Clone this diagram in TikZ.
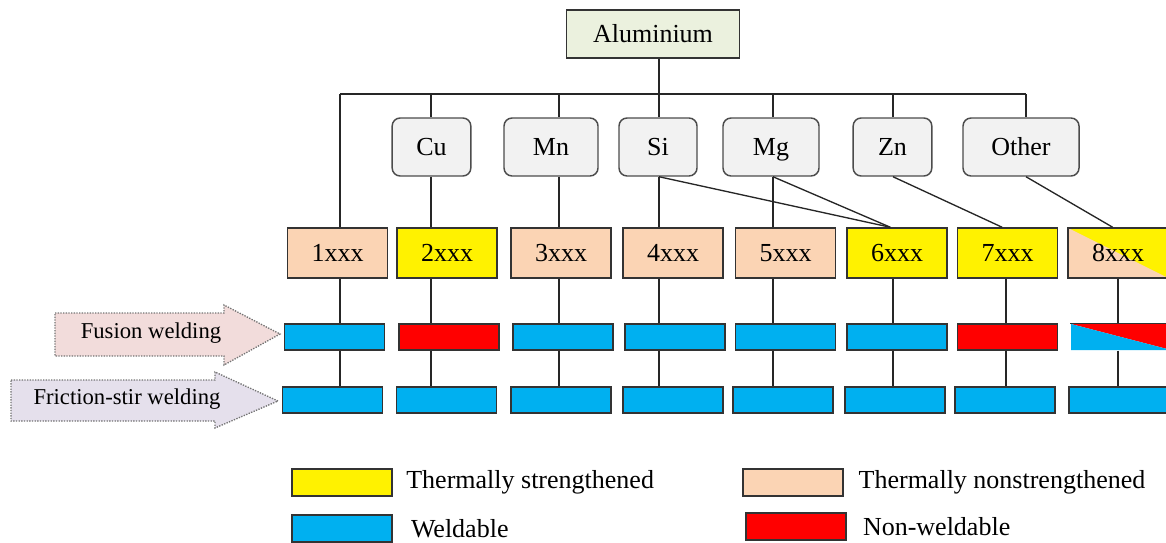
\documentclass[tikz,border=0pt]{standalone}
\usepackage{fontspec}
\setmainfont{Liberation Serif}
\usetikzlibrary{positioning}

\definecolor{alugreen}{HTML}{EBF1DE}
\definecolor{elemgray}{HTML}{F2F2F2}
\definecolor{peach}{HTML}{FBD4B4}
\definecolor{weldblue}{HTML}{00B0F0}
\definecolor{fusionpink}{HTML}{F2DCDB}
\definecolor{frictionlilac}{HTML}{E5E0EC}

\tikzset{
  boxline/.style={draw=black!80, line width=1.1pt},
  link/.style={draw=black!85, line width=1pt},
  alubox/.style={boxline, fill=alugreen, minimum width=130pt, minimum height=36pt, inner sep=0pt, text height=14pt, text depth=1pt},
  elembox/.style={boxline, draw=black!70, fill=elemgray, rounded corners=6pt, minimum height=43.5pt, inner sep=0pt, text height=14pt, text depth=1pt},
  seriesbox/.style={boxline, minimum width=75pt, minimum height=37.5pt, inner sep=0pt, text height=14pt, text depth=1pt},
  weldbox/.style={boxline, minimum width=75pt, minimum height=19.5pt, inner sep=0pt},
  legendbox/.style={boxline, minimum width=75pt, minimum height=20pt, inner sep=0pt},
  legendtext/.style={inner sep=0pt},
  procarrow/.style={draw=black!55, densely dotted, line width=1pt},
  proctext/.style={font=\fontsize{17}{20}\selectfont, inner sep=0pt}
}

\begin{document}
\begin{tikzpicture}[x=0.75pt, y=-0.75pt, font=\fontsize{19.5}{23}\selectfont]
\useasboundingbox (0,0) rectangle (1166,542);
\clip (0,0) rectangle (1166,542);

% top of the tree
\node (alu) [alubox] at (653,34) {Aluminium};

% alloying elements
\foreach \name/\txt/\x/\w in {cu/Cu/431.5/59pt, mn/Mn/551/70.5pt, si/Si/658/58.5pt, mg/Mg/771/72pt, zn/Zn/892.5/59pt, other/Other/1021/87pt}
  \node (\name) [elembox, minimum width=\w] at (\x,147) {\txt};

% column lines on the bus
\foreach \i/\x in {1/340,2/431,3/559,4/659,5/773,6/893,7/1006,8/1118}
  \coordinate (k\i) at (\x,94);
\coordinate (kot) at (1026,94);

% alloy series
\foreach \i/\x/\col in {1/337.5/peach, 2/447/yellow, 3/561/peach, 4/673/peach, 5/785.5/peach, 6/897/yellow, 7/1007.5/yellow}
  \node (s\i) [seriesbox, fill=\col] at (\x,253) {\i xxx};
\node (s8) [seriesbox, path picture={
    \fill[yellow] (path picture bounding box.north west) rectangle (path picture bounding box.south east);
    \fill[peach] (path picture bounding box.north west) -- (path picture bounding box.south east) -- (path picture bounding box.south west) -- cycle;
  }] at (1118,253) {8xxx};

% fusion welding row
\foreach \i/\x/\col in {1/334.5/weldblue, 2/449/red, 3/563/weldblue, 4/675/weldblue, 5/785.5/weldblue, 6/897/weldblue, 7/1007.5/red}
  \node (f\i) [weldbox, fill=\col] at (\x,337) {};
\node (f8) [weldbox, draw=none, path picture={
    \fill[red] (path picture bounding box.north west) -- (path picture bounding box.north east) -- (path picture bounding box.south east) -- cycle;
    \fill[weldblue] (path picture bounding box.north west) -- (path picture bounding box.south east) -- (path picture bounding box.south west) -- cycle;
  }] at (1121,337) {};
\draw[boxline] (f8.north west) -- (f8.north east);

% friction-stir welding row
\foreach \i/\x in {1/332.5,2/446.5,3/561,4/673,5/783,6/895,7/1005,8/1119}
  \node (w\i) [weldbox, fill=weldblue] at (\x,400) {};

% tree lines
\draw[link] (alu.south -| k4) -- (k4 |- si.north);
\draw[link] (k1) -- (kot);
\draw[link] (k1) -- (k1 |- s1.north);
\draw[link] (k2) -- (k2 |- cu.north) (k2 |- cu.south) -- (k2 |- s2.north);
\draw[link] (k3) -- (k3 |- mn.north) (k3 |- mn.south) -- (k3 |- s3.north);
\draw[link] (k4 |- si.south) -- (k4 |- s4.north);
\draw[link] (k5) -- (k5 |- mg.north) (k5 |- mg.south) -- (k5 |- s5.north);
\draw[link] (k6) -- (k6 |- zn.north);
\draw[link] (kot) -- (kot |- other.north);

% elements feeding several series
\draw[link] (k4 |- si.south) -- ([xshift=-5pt]s6.north);
\draw[link] (k5 |- mg.south) -- ([xshift=-5pt]s6.north);
\draw[link] (k6 |- zn.south) -- ([xshift=-4pt]s7.north);
\draw[link] (kot |- other.south) -- ([xshift=-4pt]s8.north);

% series down to the welding rows
\foreach \i in {1,...,8}
  \draw[link] (k\i |- s\i.south) -- (k\i |- f\i.north) (k\i |- f\i.south) -- (k\i |- w\i.north);

% process arrows
\draw[procarrow, fill=fusionpink] (55,313) -- (224,313) -- (224,305) -- (280,334) -- (224,365) -- (224,356) -- (55,356) -- cycle;
\node (fusion) [proctext] at (151,333) {Fusion welding};
\draw[procarrow, fill=frictionlilac] (11,380) -- (215,380) -- (215,372) -- (278,401) -- (215,428) -- (215,421) -- (11,421) -- cycle;
\node (friction) [proctext] at (127,399) {Friction-stir welding};

% legend
\node (lgstrong) [legendbox, fill=yellow] at (342,482.5) {};
\node (txtstrong) [legendtext, right=10pt of lgstrong] {Thermally strengthened};
\node (lgnon) [legendbox, fill=peach] at (793,482.5) {};
\node (txtnon) [legendtext, right=11pt of lgnon] {Thermally nonstrengthened};
\node (lgweld) [legendbox, fill=weldblue] at (342,528.5) {};
\node (txtweld) [legendtext, right=13.5pt of lgweld] {Weldable};
\node (lgnoweld) [legendbox, fill=red] at (796,526.5) {};
\node (txtnoweld) [legendtext, right=12pt of lgnoweld] {Non-weldable};

\end{tikzpicture}
\end{document}
